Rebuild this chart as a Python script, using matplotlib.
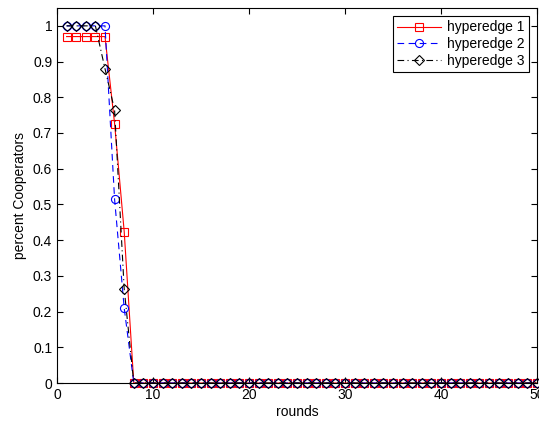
import numpy as np
import matplotlib
matplotlib.use("Agg")
import matplotlib.pyplot as plt

plt.rcParams['font.family'] = ['Liberation Sans', 'DejaVu Sans']

rounds = np.arange(1, 51)
h1_head = [0.97, 0.97, 0.97, 0.97, 0.97, 0.726, 0.424]
h2_head = [1.0, 1.0, 1.0, 1.0, 1.0, 0.514, 0.21]
h3_head = [1.0, 1.0, 1.0, 1.0, 0.88, 0.764, 0.263]

n_zero = len(rounds) - len(h1_head)
h1 = np.array(h1_head + [0.0] * n_zero)
h2 = np.array(h2_head + [0.0] * n_zero)
h3 = np.array(h3_head + [0.0] * n_zero)

fig = plt.figure(figsize=(5.39, 4.23), dpi=100)
ax = fig.add_axes([57 / 539, 40 / 423, 480 / 539, 375 / 423])

ms = 5.8
ax.plot(rounds, h1, color='red', ls='-', lw=0.8, marker='s', ms=ms,
        mfc='none', mec='red', mew=0.8, label='hyperedge 1', clip_on=False)
ax.plot(rounds, h2, color='blue', ls=(0, (6, 4)), lw=0.8, marker='o', ms=ms,
        mfc='none', mec='blue', mew=0.8, label='hyperedge 2', clip_on=False)
ax.plot(rounds, h3, color='black', ls=(0, (6, 3, 1, 3)), lw=0.8, marker='D', ms=ms - 0.6,
        mfc='none', mec='black', mew=0.8, label='hyperedge 3', clip_on=False)

ax.set_xlim(0, 50)
ax.set_ylim(0, 1.05)
ax.set_xticks(np.arange(0, 51, 10))
ax.set_yticks(np.arange(0, 1.01, 0.1))
ax.set_yticklabels(['0', '0.1', '0.2', '0.3', '0.4', '0.5', '0.6', '0.7', '0.8', '0.9', '1'])
ax.tick_params(direction='in', top=True, right=True, labelsize=10, length=4, width=0.8)
for s in ax.spines.values():
    s.set_linewidth(0.8)

ax.set_xlabel('rounds', fontsize=10, labelpad=2)
ax.set_ylabel('percent Cooperators', fontsize=10, labelpad=4)

leg = ax.legend(loc='upper right', fontsize=10, fancybox=False, edgecolor='black',
                framealpha=1, borderpad=0.3, labelspacing=0.2, handlelength=3.2,
                handletextpad=0.4, borderaxespad=0.6)
leg.get_frame().set_linewidth(0.8)

fig.savefig('out.png', dpi=100)
